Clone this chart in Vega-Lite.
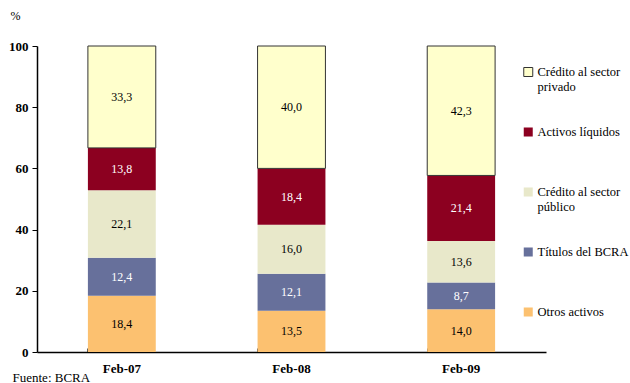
{
  "$schema": "https://vega.github.io/schema/vega-lite/v6.json",
  "width": 509,
  "height": 306,
  "autosize": {"type": "none"},
  "padding": {"left": 37, "top": 46, "right": 84, "bottom": 31},
  "config": {
    "view": {"stroke": null},
    "font": "Liberation Serif",
    "axis": {"labelFont": "Liberation Serif", "titleFont": "Liberation Serif"},
    "legend": {"labelFont": "Liberation Serif", "titleFont": "Liberation Serif"},
    "text": {"font": "Liberation Serif"},
    "locale": {"number": {"decimal": ",", "thousands": ".", "grouping": [3], "currency": ["$", ""]}}
  },
  "data": {
    "values": [
      {"fecha": "Feb-07", "serie": "Otros activos", "k": 1, "v": 18.4},
      {"fecha": "Feb-07", "serie": "Títulos del BCRA", "k": 2, "v": 12.4},
      {"fecha": "Feb-07", "serie": "Crédito al sector público", "k": 3, "v": 22.1},
      {"fecha": "Feb-07", "serie": "Activos líquidos", "k": 4, "v": 13.8},
      {"fecha": "Feb-07", "serie": "Crédito al sector privado", "k": 5, "v": 33.3},
      {"fecha": "Feb-08", "serie": "Otros activos", "k": 1, "v": 13.5},
      {"fecha": "Feb-08", "serie": "Títulos del BCRA", "k": 2, "v": 12.1},
      {"fecha": "Feb-08", "serie": "Crédito al sector público", "k": 3, "v": 16.0},
      {"fecha": "Feb-08", "serie": "Activos líquidos", "k": 4, "v": 18.4},
      {"fecha": "Feb-08", "serie": "Crédito al sector privado", "k": 5, "v": 40.0},
      {"fecha": "Feb-09", "serie": "Otros activos", "k": 1, "v": 14.0},
      {"fecha": "Feb-09", "serie": "Títulos del BCRA", "k": 2, "v": 8.7},
      {"fecha": "Feb-09", "serie": "Crédito al sector público", "k": 3, "v": 13.6},
      {"fecha": "Feb-09", "serie": "Activos líquidos", "k": 4, "v": 21.4},
      {"fecha": "Feb-09", "serie": "Crédito al sector privado", "k": 5, "v": 42.3}
    ]
  },
  "transform": [
    {"stack": "v", "groupby": ["fecha"], "sort": [{"field": "k", "order": "ascending"}], "as": ["v0", "v1"]},
    {"calculate": "(datum.v0 + datum.v1) / 2", "as": "mid"}
  ],
  "layer": [
    {
      "mark": {"type": "bar", "strokeWidth": 1},
      "encoding": {
        "x": {
          "field": "fecha", "type": "nominal",
          "scale": {"paddingInner": 0.6, "paddingOuter": 0.3},
          "axis": {
            "title": "Fuente: BCRA", "titleX": -25, "titleY": 29, "titleAlign": "left", "titleBaseline": "alphabetic",
            "titleFontWeight": "normal", "titleFontSize": 13, "titleFont": "Liberation Serif", "titleColor": "#000",
            "labelAngle": 0, "labelFontWeight": "bold", "labelFontSize": 13, "labelFont": "Liberation Serif", "labelColor": "#000", "labelPadding": 14,
            "bandPosition": 0, "tickSize": -4, "tickColor": "#555", "domainColor": "#000", "domainWidth": 1.5
          }
        },
        "y": {
          "field": "v0", "type": "quantitative",
          "scale": {"domain": [0, 100]},
          "axis": {
            "values": [0, 20, 40, 60, 80, 100], "grid": false,
            "title": "%", "titleAngle": 0, "titleX": -27, "titleY": -27, "titleAlign": "left", "titleBaseline": "alphabetic",
            "titleFontWeight": "normal", "titleFontSize": 12, "titleFont": "Liberation Serif", "titleColor": "#000",
            "labelFontWeight": "bold", "labelFontSize": 13, "labelFont": "Liberation Serif", "labelColor": "#000", "labelPadding": 4,
            "tickSize": 5, "tickColor": "#000", "domainColor": "#000", "domainWidth": 1.5
          }
        },
        "y2": {"field": "v1"},
        "color": {
          "field": "serie", "type": "nominal",
          "scale": {
            "domain": ["Crédito al sector privado", "Activos líquidos", "Crédito al sector público", "Títulos del BCRA", "Otros activos"],
            "range": ["#FFFFCC", "#8C0020", "#E8E8CA", "#67709B", "#FCC170"]
          },
          "legend": {
            "title": null, "orient": "none", "legendX": 485, "legendY": 5,
            "direction": "vertical",
            "symbolType": "square", "symbolSize": 81, "symbolStrokeWidth": 1,
            "labelFont": "Liberation Serif", "labelFontSize": 12.5, "labelColor": "#000", "labelOffset": 3,
            "labelLimit": 200,
            "clipHeight": 42, "rowPadding": 18,
            "labelExpr": "datum.label == 'Crédito al sector privado' ? ['Crédito al sector', 'privado'] : datum.label == 'Crédito al sector público' ? ['Crédito al sector', 'público'] : datum.label"
          }
        },
        "stroke": {
          "field": "serie", "type": "nominal",
          "scale": {
            "domain": ["Crédito al sector privado", "Activos líquidos", "Crédito al sector público", "Títulos del BCRA", "Otros activos"],
            "range": ["#333333", "transparent", "transparent", "transparent", "transparent"]
          },
          "legend": null
        }
      }
    },
    {
      "mark": {"type": "text", "fontSize": 12, "font": "Liberation Serif"},
      "encoding": {
        "x": {"field": "fecha", "type": "nominal"},
        "y": {"field": "mid", "type": "quantitative"},
        "text": {"field": "v", "type": "quantitative", "format": ".1f"},
        "color": {
          "condition": {"test": "datum.k == 2 || datum.k == 4", "value": "#ffffff"},
          "value": "#000000"
        }
      }
    }
  ]
}
